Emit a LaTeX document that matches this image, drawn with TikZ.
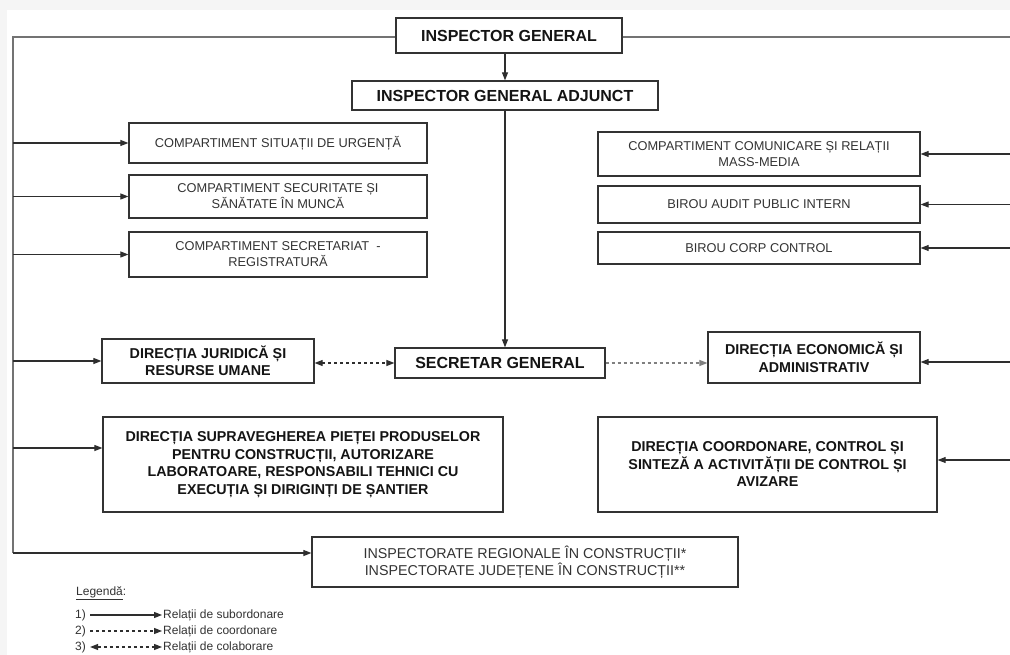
\documentclass[tikz,border=0pt]{standalone}
\usepackage{fontspec}
\setmainfont{Liberation Sans}
\usetikzlibrary{arrows.meta,calc}
\tikzset{
	box/.style={draw=black!80, line width=1.3pt, inner sep=2pt, align=center, text=black!80, font=\fontsize{12.8}{16}\selectfont},
	bbox/.style={box, text=black!92, font=\bfseries\fontsize{14.3}{17.5}\selectfont},
	bigbox/.style={box, text=black!92, font=\bfseries\fontsize{16}{19}\selectfont},
	sub/.style={draw=black!82, line width=1.1pt, -{Triangle[length=8pt,width=6pt]}},
	coordarrow/.style={sub, dash pattern=on 3pt off 3pt},
	colab/.style={coordarrow, {Triangle[length=8pt,width=6pt]}-{Triangle[length=8pt,width=6pt]}},
	framerule/.style={draw=black!55, line width=1.3pt},
	leg/.style={inner sep=1pt, anchor=west, text=black!80, font=\fontsize{12}{13}\selectfont}
}

\begin{document}
\begin{tikzpicture}[x=1pt,y=-1pt]
	%%%%% START %%%%%
	
	\fill[black!4] (0,0) rectangle (1010,655);
	\fill[white] (7,10) rectangle (1010,655);
	\useasboundingbox (0,0) rectangle (1010,655);
	
	\node[bigbox, minimum width=226pt, minimum height=35pt] (ig) at (509,35.5) {INSPECTOR GENERAL};
	\node[bigbox, minimum width=306pt, minimum height=29pt] (iga) at (505,95.5) {INSPECTOR GENERAL ADJUNCT};
	
	% compartimente stanga
	\node[box, minimum width=298pt, minimum height=40pt] (urg) at (278,143) {COMPARTIMENT SITUAȚII DE URGENȚĂ};
	\node[box, minimum width=298pt, minimum height=43pt] (ssm) at (278,196.5) {COMPARTIMENT SECURITATE ȘI\\SĂNĂTATE ÎN MUNCĂ};
	\node[box, minimum width=298pt, minimum height=45pt] (reg) at (278,254.5) {COMPARTIMENT SECRETARIAT\ \ -\\REGISTRATURĂ};
	
	% compartimente dreapta
	\node[box, minimum width=322pt, minimum height=44pt] (media) at (759,154) {COMPARTIMENT COMUNICARE ȘI RELAȚII\\MASS-MEDIA};
	\node[box, minimum width=322pt, minimum height=37pt] (audit) at (759,204.5) {BIROU AUDIT PUBLIC INTERN};
	\node[box, minimum width=322pt, minimum height=32pt] (corp) at (759,248) {BIROU CORP CONTROL};
	
	% directii
	\node[bbox, minimum width=212pt, minimum height=44pt] (jur) at (208,361) {DIRECȚIA JURIDICĂ ȘI\\RESURSE UMANE};
	\node[bigbox, minimum width=210pt, minimum height=30pt] (sg) at (500,363) {SECRETAR GENERAL};
	\node[bbox, minimum width=212pt, minimum height=51pt] (eco) at (814,357.5) {DIRECȚIA ECONOMICĂ ȘI\\ADMINISTRATIV};
	\node[bbox, minimum width=400pt, minimum height=95pt] (sup) at (303,464.5) {DIRECȚIA SUPRAVEGHEREA PIEȚEI PRODUSELOR\\PENTRU CONSTRUCȚII, AUTORIZARE\\LABORATOARE, RESPONSABILI TEHNICI CU\\EXECUȚIA ȘI DIRIGINȚI DE ȘANTIER};
	\node[bbox, minimum width=339pt, minimum height=95pt] (ctrl) at (767.5,464.5) {DIRECȚIA COORDONARE, CONTROL ȘI\\SINTEZĂ A ACTIVITĂȚII DE CONTROL ȘI\\AVIZARE};
	\node[box, font=\fontsize{14.3}{15}\selectfont, minimum width=426pt, minimum height=50pt] (insp) at (525,562) {INSPECTORATE REGIONALE ÎN CONSTRUCȚII*\\INSPECTORATE JUDEȚENE ÎN CONSTRUCȚII**};
	
	% cadru
	\coordinate (tl) at (13,37);
	\coordinate (bl) at (13,553);
	\coordinate (tr) at (1010,37);
	\draw[framerule] (ig.west |- tl) -- (tl) -- (bl);
	\draw[framerule] (ig.east |- tr) -- (tr);
	\draw[sub] (bl) -- (bl -| insp.west);
	
	\draw[sub] (iga.north |- ig.south) -- (iga.north);
	\draw[sub] (iga.south) -- (iga.south |- sg.north);
	
	\foreach \n in {urg,ssm,reg,jur}
		\draw[sub] (\n.west -| tl) -- (\n.west);
	\draw[sub] ([yshift=16.5pt]sup.west -| tl) -- ([yshift=16.5pt]sup.west);
	
	\foreach \n in {media,audit,corp}
		\draw[sub] (\n.east -| tr) -- (\n.east);
	\draw[sub] ([yshift=-4.5pt]eco.east -| tr) -- ([yshift=-4.5pt]eco.east);
	\draw[sub] ([yshift=4.5pt]ctrl.east -| tr) -- ([yshift=4.5pt]ctrl.east);
	
	\draw[colab] (jur.east |- sg.west) -- (sg.west);
	\draw[coordarrow, draw=black!50] (sg.east) -- (sg.east -| eco.west);
	
	% legenda
	\node[leg] (legtitle) at (75,593) {\underline{Legendă}:};
	\node[leg] (l1) at (74,615) {1)};
	\node[leg] (r1) at (162,615) {Relații de subordonare};
	\node[leg] (l2) at (74,631) {2)};
	\node[leg] (r2) at (162,631) {Relații de coordonare};
	\node[leg] (l3) at (74,647) {3)};
	\node[leg] (r3) at (162,647) {Relații de colaborare};
	\draw[sub, shorten <=3pt] (l1) -- (r1);
	\draw[coordarrow, shorten <=3pt] (l2) -- (r2);
	\draw[colab, shorten <=3pt] (l3) -- (r3);
	
	%%%%% END %%%%%
\end{tikzpicture}
\end{document}
